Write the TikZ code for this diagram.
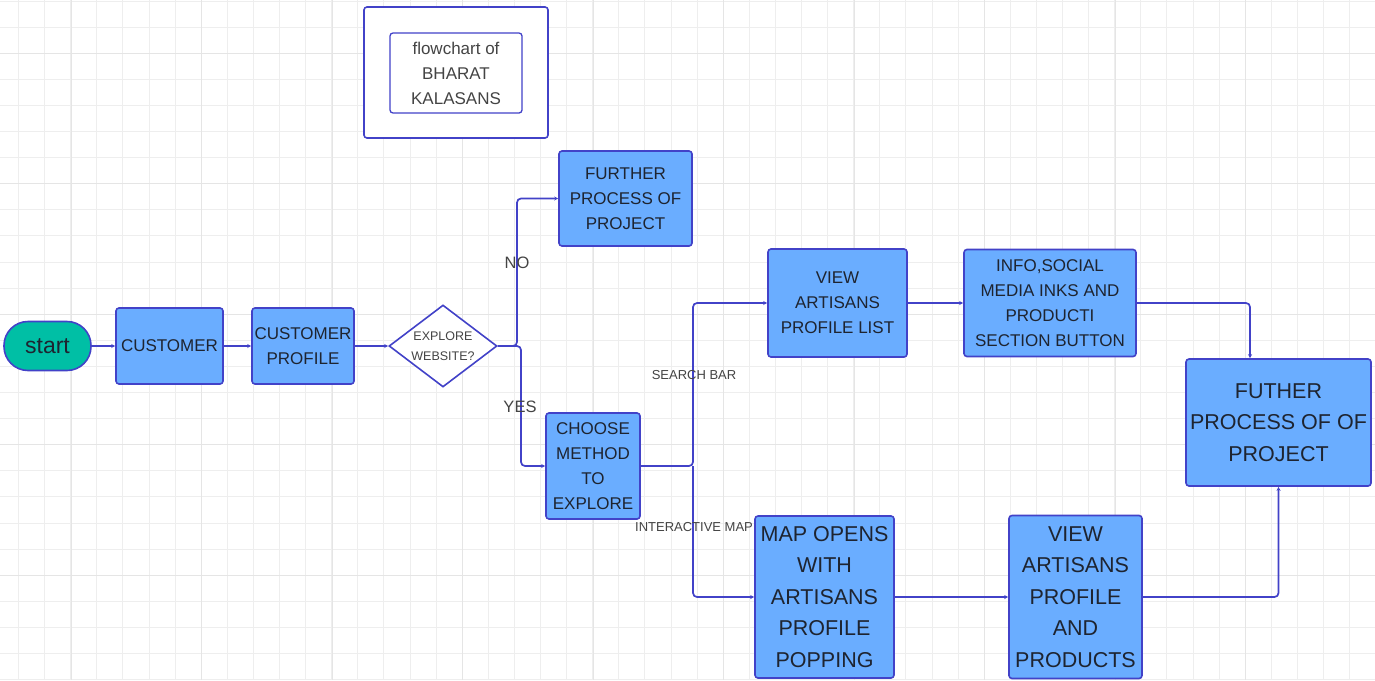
\documentclass[tikz,border=0pt]{standalone}
\usepackage{fontspec}
\setmainfont{Liberation Sans}
\usetikzlibrary{arrows.meta,shapes.geometric}

\definecolor{edgeblue}{RGB}{66,66,200}
\definecolor{boxblue}{RGB}{106,173,255}
\definecolor{startteal}{RGB}{0,191,165}
\definecolor{inkdark}{RGB}{30,36,48}
\definecolor{labelgray}{RGB}{68,68,68}
\definecolor{gridminor}{RGB}{238,238,238}
\definecolor{gridmajor}{RGB}{229,229,229}

\begin{document}
\begin{tikzpicture}[
  x=1pt, y=-1pt,
  >={Stealth[length=4pt,width=4pt]},
  every node/.style={align=center, text=inkdark},
  box/.style={draw=edgeblue, fill=boxblue, line width=1.6pt, rounded corners=3pt, inner sep=0pt},
  midtext/.style={font=\fontsize{17}{25}\selectfont},
  bigtext/.style={font=\fontsize{21.5}{31.5}\selectfont},
  flow/.style={->, draw=edgeblue, line width=1.7pt, rounded corners=4pt},
  edgelabel/.style={text=labelgray, font=\fontsize{16.5}{20}\selectfont},
  smalllabel/.style={text=labelgray, font=\fontsize{13}{16}\selectfont},
  minorline/.style={draw=gridminor, line width=1pt},
  majorline/.style={draw=gridmajor, line width=1pt}
]

% --- Canvas and grid
\useasboundingbox[fill=white] (0,0) rectangle (1375,680);
\foreach \i in {0,...,52} \draw[minorline] ({18.5+26.1*\i},0) -- ++(0,680);
\foreach \i in {0,...,26} \draw[minorline] (0,{1+26.1*\i}) -- ++(1375,0);
\foreach \i in {0,...,10} \draw[majorline] ({71+130.5*\i},0) -- ++(0,680);
\foreach \i in {0,...,4} \draw[majorline] (0,{53+130.5*\i}) -- ++(1375,0);

% --- Title
\node[box, fill=white, minimum width=184pt, minimum height=131pt] (titleouter) at (456,72.5) {};
\node[box, fill=white, line width=1.3pt, text=labelgray, midtext, minimum width=132pt, minimum height=80pt] (titleinner) at (456,73) {flowchart of\\BHARAT\\KALASANS};

% --- Layout
\node[box, fill=startteal, rounded corners=24pt, minimum width=87pt, minimum height=49pt, font=\fontsize{23}{26}\selectfont] (start) at (47.5,346) {start};
\node[box, midtext, minimum width=107pt, minimum height=76pt] (cust) at (169.5,346) {CUSTOMER};
\node[box, midtext, minimum width=102pt, minimum height=76pt] (cprof) at (303,346) {CUSTOMER\\PROFILE};
\node[diamond, aspect=1.32, draw=edgeblue, fill=white, line width=1.6pt, inner sep=0pt, minimum width=108pt, minimum height=82pt, text=labelgray, font=\fontsize{12.5}{20}\selectfont] (explore) at (443,346) {EXPLORE\\WEBSITE?};

\node[box, midtext, minimum width=133pt, minimum height=95pt] (further) at (625.5,198.5) {FURTHER\\PROCESS OF\\PROJECT};
\node[box, midtext, minimum width=94pt, minimum height=106pt] (choose) at (593,466) {CHOOSE\\METHOD\\TO\\EXPLORE};

\node[box, midtext, minimum width=139pt, minimum height=108pt] (viewlist) at (837.5,303) {VIEW\\ARTISANS\\PROFILE LIST};
\node[box, midtext, minimum width=172pt, minimum height=107pt] (info) at (1050,303) {INFO,SOCIAL\\MEDIA INKS AND\\PRODUCTI\\SECTION BUTTON};
\node[box, bigtext, minimum width=185pt, minimum height=127pt] (futher) at (1278.5,422.5) {FUTHER\\PROCESS OF OF\\PROJECT};

\node[box, bigtext, minimum width=139pt, minimum height=162pt] (mapopen) at (824.5,597) {MAP OPENS\\WITH\\ARTISANS\\PROFILE\\POPPING};
\node[box, bigtext, minimum width=133pt, minimum height=163pt] (viewprod) at (1075.5,597) {VIEW\\ARTISANS\\PROFILE\\AND\\PRODUCTS};

% --- Joints
\coordinate (nojoint) at (517,346);
\coordinate (yesjoint) at (521,346);
\coordinate (split) at (693,466);
\coordinate (infodrop) at (1250,303);

% --- Connectors
\draw[flow] (start) -- (cust);
\draw[flow] (cust) -- (cprof);
\draw[flow] (cprof) -- (explore);
\draw[flow] (explore.east) -- (nojoint) |- (further.west);
\draw[flow] (explore.east) -- (yesjoint) |- (choose.west);
\draw[flow] (choose.east) -- (split) |- (viewlist.west);
\draw[flow] (split) |- (mapopen.west);
\draw[flow] (viewlist) -- (info);
\draw[flow] (info.east) -- (infodrop) -- (infodrop |- futher.north);
\draw[flow] (mapopen) -- (viewprod);
\draw[flow] (viewprod.east) -| (futher.south);

% --- Labels
\node[edgelabel] (nolabel) at (517,263) {NO};
\node[edgelabel] (yeslabel) at (520,407) {YES};
\node[smalllabel] (searchlabel) at (694,375) {SEARCH BAR};
\node[smalllabel] (maplabel) at (694,527) {INTERACTIVE MAP};

\end{tikzpicture}
\end{document}
